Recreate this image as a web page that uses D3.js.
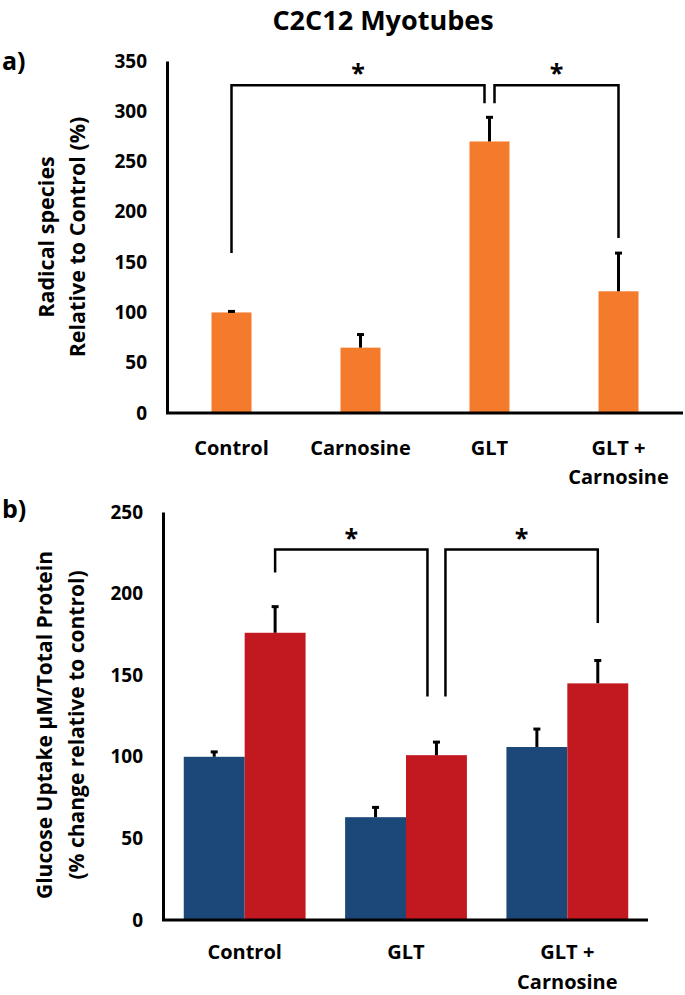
<!DOCTYPE html>
<html>
<head>
<meta charset="utf-8">
<script src="https://cdn.jsdelivr.net/npm/d3@7"></script>
<style>
  body { margin: 0; background: #fff; }
  svg text { font-family: "Open Sans", sans-serif; font-weight: bold; fill: #000; }
</style>
</head>
<body>
<svg id="chart" width="685" height="995"></svg>
<script>
// panel a) radical species
var catsA = ["Control", "Carnosine", "GLT", "GLT + Carnosine"];
var valsA = [100, 65, 270, 121];
var errA = [1, 13, 24, 38];
var ticksA = [0, 50, 100, 150, 200, 250, 300, 350];

// panel b) glucose uptake, two series per group
var catsB = ["Control", "GLT", "GLT + Carnosine"];
var blueB = [100, 63, 106];
var blueErrB = [3, 6, 11];
var redB = [176, 101, 145];
var redErrB = [16, 8, 14];
var ticksB = [0, 50, 100, 150, 200, 250];

// significance brackets: [from cat, to cat, level, drop at start, drop at end]
var sigA = [
  {from: 0, to: 2, level: 326, y0: 159, y1: 308, dx0: 0, dx1: -5},
  {from: 2, to: 3, level: 326, y0: 308, y1: 174, dx0: 5, dx1: 0}
];
var sigB = [
  {from: 0, to: 1, level: 227, y0: 213, y1: 137, dx0: 0, dx1: -9},
  {from: 1, to: 2, level: 227, y0: 137, y1: 182, dx0: 9, dx1: 0}
];

var svg = d3.select("#chart");

svg.append("text")
  .attr("x", 383).attr("y", 30)
  .attr("text-anchor", "middle")
  .attr("font-size", 27)
  .text("C2C12 Myotubes");

function drawYAxis(g, y, ticks, x0) {
  var ax = d3.axisLeft(y).tickValues(ticks).tickSize(0).tickPadding(20).tickSizeOuter(0);
  var a = g.append("g").attr("transform", "translate(" + x0 + ",0)").call(ax);
  a.select(".domain").attr("stroke", "#000").attr("stroke-width", 3);
  a.selectAll("text").attr("font-size", 19).attr("font-family", "Open Sans");
}

function drawXAxis(g, x, yPos, xStart, xEnd, y1, y2) {
  g.append("line")
    .attr("x1", xStart).attr("x2", xEnd)
    .attr("y1", yPos).attr("y2", yPos)
    .attr("stroke", "#000").attr("stroke-width", 3);
  var lab = g.selectAll(".xl").data(x.domain()).enter().append("text")
    .attr("text-anchor", "middle")
    .attr("font-size", 20);
  lab.each(function(d) {
    var parts = d == "GLT + Carnosine" ? ["GLT +", "Carnosine"] : [d];
    var t = d3.select(this);
    parts.forEach(function(p, i) {
      t.append("tspan")
        .attr("x", x(d) + x.bandwidth() / 2)
        .attr("y", i == 0 ? y1 : y2)
        .text(p);
    });
  });
}

function drawYLabel(g, lines, cx, cy, size, gap) {
  var t = g.append("text")
    .attr("transform", "translate(" + cx + "," + cy + ") rotate(-90)")
    .attr("text-anchor", "middle")
    .attr("font-size", size);
  lines.forEach(function(l, i) {
    t.append("tspan").attr("x", 0).attr("dy", i == 0 ? 0 : gap).text(l);
  });
}

function errBar(g, cx, yTop, yEnd) {
  g.append("line")
    .attr("x1", cx).attr("x2", cx)
    .attr("y1", yTop).attr("y2", yEnd)
    .attr("stroke", "#000").attr("stroke-width", 3);
  g.append("line")
    .attr("x1", cx - 3.5).attr("x2", cx + 3.5)
    .attr("y1", yEnd).attr("y2", yEnd)
    .attr("stroke", "#000").attr("stroke-width", 3);
}

function bracket(g, s, xs, y) {
  var xa = xs(s.from) + s.dx0, xb = xs(s.to) + s.dx1;
  var path = d3.path();
  path.moveTo(xa, y(s.y0));
  path.lineTo(xa, y(s.level));
  path.lineTo(xb, y(s.level));
  path.lineTo(xb, y(s.y1));
  g.append("path").attr("d", path.toString())
    .attr("fill", "none").attr("stroke", "#000").attr("stroke-width", 2.5);
  g.append("text")
    .attr("x", (xa + xb) / 2).attr("y", y(s.level) - 3)
    .attr("text-anchor", "middle")
    .attr("font-size", 25)
    .attr("font-weight", "normal")
    .text("*");
}

// ---------- panel a ----------
var gA = svg.append("g");
var xA = d3.scaleBand().domain(catsA).range([167, 683]).paddingInner(0.69).paddingOuter(0.345);
var yA = d3.scaleLinear().domain([0, 350]).range([413, 61]);

gA.append("text").attr("x", 2).attr("y", 70).attr("font-size", 25).text("a)");

gA.selectAll(".bar").data(valsA).enter().append("rect")
  .attr("x", function(d, i) { return xA(catsA[i]); })
  .attr("y", function(d) { return yA(d); })
  .attr("width", xA.bandwidth())
  .attr("height", function(d) { return yA(0) - yA(d); })
  .attr("fill", "#F47B2B");

valsA.forEach(function(v, i) {
  var cx = xA(catsA[i]) + xA.bandwidth() / 2;
  errBar(gA, cx, yA(v), yA(v + errA[i]));
});

drawYAxis(gA, yA, ticksA, 167);
drawXAxis(gA, xA, 413, 166, 683, 455, 484);
drawYLabel(gA, ["Radical species", "Relative to Control (%)"], 54, 237, 21.5, 31);

var cxA = function(i) { return xA(catsA[i]) + xA.bandwidth() / 2; };
sigA.forEach(function(s) { bracket(gA, s, cxA, yA); });

// ---------- panel b ----------
var gB = svg.append("g");
var xB = d3.scaleBand().domain(catsB).range([164, 648]).paddingInner(0.245).paddingOuter(0.1225);
var xSub = d3.scaleBand().domain(["blue", "red"]).range([0, xB.bandwidth()]);
var yB = d3.scaleLinear().domain([0, 250]).range([920, 512]);

gB.append("text").attr("x", 2).attr("y", 518).attr("font-size", 25).text("b)");

var series = [
  {key: "blue", vals: blueB, errs: blueErrB, color: "#1B4878"},
  {key: "red", vals: redB, errs: redErrB, color: "#C1191F"}
];

series.forEach(function(s) {
  gB.selectAll(".bar-" + s.key).data(s.vals).enter().append("rect")
    .attr("x", function(d, i) { return xB(catsB[i]) + xSub(s.key); })
    .attr("y", function(d) { return yB(d); })
    .attr("width", xSub.bandwidth())
    .attr("height", function(d) { return yB(0) - yB(d); })
    .attr("fill", s.color);
});

series.forEach(function(s) {
  s.vals.forEach(function(v, i) {
    var cx = xB(catsB[i]) + xSub(s.key) + xSub.bandwidth() / 2;
    errBar(gB, cx, yB(v), yB(v + s.errs[i]));
  });
});

drawYAxis(gB, yB, ticksB, 163);
drawXAxis(gB, xB, 920, 162, 648, 959, 989);
drawYLabel(gB, ["Glucose Uptake µM/Total Protein", "(% change relative to control)"], 52, 725, 21, 32);

var cxB = function(i) { return xB(catsB[i]) + xSub("red") + xSub.bandwidth() / 2; };
sigB.forEach(function(s) { bracket(gB, s, cxB, yB); });
</script>
</body>
</html>
